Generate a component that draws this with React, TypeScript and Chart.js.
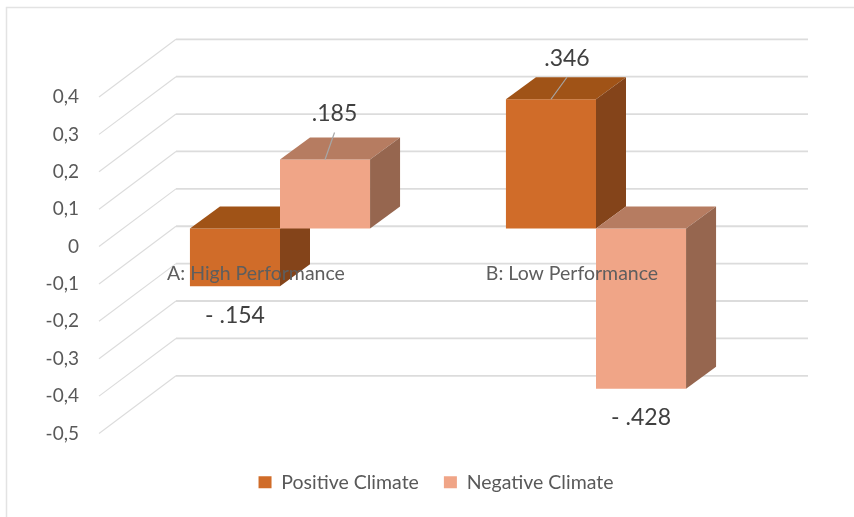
import { useEffect, useRef } from "react";
import { Chart, registerables } from "chart.js";

Chart.register(...registerables);

const categories = ["A: High Performance", "B: Low Performance"];
const seriesNames = ["Positive Climate", "Negative Climate"];
const positiveClimate = [-0.154, 0.346];
const negativeClimate = [0.185, -0.428];
const tickValues = [0.4, 0.3, 0.2, 0.1, 0, -0.1, -0.2, -0.3, -0.4, -0.5];
const tickLabels = ["0,4", "0,3", "0,2", "0,1", "0", "-0,1", "-0,2", "-0,3", "-0,4", "-0,5"];

const FONT = "Lato, 'Open Sans', sans-serif";
const palette = [
  { front: "#D06C29", top: "#A05317", side: "#84441A" },
  { front: "#F0A587", top: "#B67C61", side: "#96664F" },
];

// Floor and wall of the pseudo-3D plot, in pixels from the front edge of each gridline.
const WALL = { frontX: 99, backX: 176, rise: 57.7, rightX: 808 };
const BAR_DEPTH = { dx: 30, dy: 22 };

const formatValue = (v: number) =>
  (v < 0 ? "- " : "") + Math.abs(v).toFixed(3).replace(/^0/, "");

const frame = {
  id: "frame",
  beforeDraw(chart: any) {
    const { ctx, width, height } = chart;
    ctx.save();
    ctx.strokeStyle = "#E3E3E3";
    ctx.lineWidth = 1.5;
    ctx.beginPath();
    ctx.moveTo(6.5, height);
    ctx.lineTo(6.5, 7.5);
    ctx.lineTo(width, 7.5);
    ctx.stroke();
    ctx.restore();
  },
};

const wallGrid = {
  id: "wallGrid",
  beforeDatasetsDraw(chart: any) {
    const { ctx } = chart;
    const y = chart.scales.y;
    ctx.save();
    ctx.strokeStyle = "#DCDCDC";
    tickValues.forEach((v) => {
      const py = y.getPixelForValue(v);
      ctx.lineWidth = 1.2;
      ctx.beginPath();
      ctx.moveTo(WALL.frontX, py);
      ctx.lineTo(WALL.backX, py - WALL.rise);
      ctx.stroke();
      ctx.lineWidth = 1.8;
      ctx.beginPath();
      ctx.moveTo(WALL.backX, py - WALL.rise);
      ctx.lineTo(WALL.rightX, py - WALL.rise);
      ctx.stroke();
    });
    ctx.restore();
  },
};

// Each box is painted series by series, left to right, so later faces cover earlier ones.
const extrude = {
  id: "extrude",
  beforeDatasetsDraw(chart: any) {
    const { ctx } = chart;
    const { dx, dy } = BAR_DEPTH;
    chart.data.datasets.forEach((_: any, di: number) => {
      const colors = palette[di];
      chart.getDatasetMeta(di).data.forEach((bar: any) => {
        bar.draw(ctx);
        const left = bar.x - bar.width / 2;
        const right = bar.x + bar.width / 2;
        const top = Math.min(bar.y, bar.base);
        const bottom = Math.max(bar.y, bar.base);
        ctx.save();
        ctx.fillStyle = colors.top;
        ctx.beginPath();
        ctx.moveTo(left, top);
        ctx.lineTo(left + dx, top - dy);
        ctx.lineTo(right + dx, top - dy);
        ctx.lineTo(right, top);
        ctx.closePath();
        ctx.fill();
        ctx.fillStyle = colors.side;
        ctx.beginPath();
        ctx.moveTo(right, top);
        ctx.lineTo(right + dx, top - dy);
        ctx.lineTo(right + dx, bottom - dy);
        ctx.lineTo(right, bottom);
        ctx.closePath();
        ctx.fill();
        ctx.restore();
      });
    });
  },
  beforeDatasetDraw() {
    return false;
  },
};

const annotations = {
  id: "annotations",
  afterDatasetsDraw(chart: any) {
    const { ctx } = chart;
    const x = chart.scales.x;
    ctx.save();
    ctx.textAlign = "center";
    ctx.textBaseline = "middle";

    // Category names sit across the bars, left of each group's centre.
    ctx.font = `19.5px ${FONT}`;
    ctx.fillStyle = "#5E5E5E";
    categories.forEach((name, i) => {
      ctx.fillText(name, x.getPixelForTick(i) - 24, 274);
    });

    // Value captions, with a leader line over the top face of upward bars.
    chart.data.datasets.forEach((ds: any, di: number) => {
      chart.getDatasetMeta(di).data.forEach((bar: any, i: number) => {
        const v = ds.data[i];
        ctx.font = `23px ${FONT}`;
        ctx.fillStyle = "#404040";
        if (v >= 0) {
          const [sx, sy] = i === 0 ? [9.5, -46] : [16, -41];
          ctx.strokeStyle = "#A6A6A6";
          ctx.lineWidth = 1.2;
          ctx.beginPath();
          ctx.moveTo(bar.x, bar.y);
          ctx.lineTo(bar.x + sx, bar.y - BAR_DEPTH.dy - (i === 0 ? 5 : 0));
          ctx.stroke();
          ctx.fillText(formatValue(v), bar.x + sx, bar.y + sy);
        } else {
          ctx.fillText(formatValue(v), bar.x, bar.y + 29);
        }
      });
    });
    ctx.restore();
  },
};

export default function App() {
  const ref = useRef<HTMLCanvasElement>(null);

  useEffect(() => {
    const chart = new Chart(ref.current!, {
      type: "bar",
      data: {
        labels: categories,
        datasets: [
          {
            label: seriesNames[0],
            data: positiveClimate,
            backgroundColor: palette[0].front,
            yAxisID: "bars",
          },
          {
            label: seriesNames[1],
            data: negativeClimate,
            backgroundColor: palette[1].front,
            yAxisID: "bars",
          },
        ],
      },
      options: {
        responsive: false,
        animation: false,
        events: [],
        layout: { padding: { left: 44, right: 26, top: 97, bottom: 15 } },
        datasets: { bar: { categoryPercentage: 0.57, barPercentage: 1, clip: false } },
        scales: {
          x: {
            grid: { display: false },
            border: { display: false },
            ticks: { display: false },
            afterFit: (s: any) => {
              s.height = 14;
            },
          },
          y: {
            min: -0.5,
            max: 0.4,
            position: "left",
            grid: { display: false, drawTicks: false },
            border: { display: false },
            ticks: {
              stepSize: 0.1,
              autoSkip: false,
              padding: 43,
              color: "#595959",
              font: { family: FONT, size: 19 },
              callback: (value: any) => {
                const i = tickValues.findIndex((t) => Math.abs(t - Number(value)) < 1e-6);
                return i >= 0 ? tickLabels[i] : "";
              },
            },
            afterFit: (s: any) => {
              s.width = 78;
            },
          },
          // Bars stand part-way into the box, so their zero sits above the front edge.
          bars: {
            position: "right",
            min: -0.548,
            max: 0.352,
            grid: { display: false, drawTicks: false },
            border: { display: false },
            ticks: { display: false },
            afterFit: (s: any) => {
              s.width = 74;
            },
          },
        },
        plugins: {
          tooltip: { enabled: false },
          legend: {
            position: "bottom",
            labels: {
              boxWidth: 13,
              boxHeight: 12,
              padding: 25,
              color: "#595959",
              font: { family: FONT, size: 19.5 },
            },
          },
        },
      },
      plugins: [frame, wallGrid, extrude, annotations],
    } as any);
    return () => chart.destroy();
  }, []);

  return (
    <div style={{ position: "fixed", left: 0, top: 0 }}>
      <canvas ref={ref} width={854} height={517} style={{ display: "block" }} />
    </div>
  );
}
